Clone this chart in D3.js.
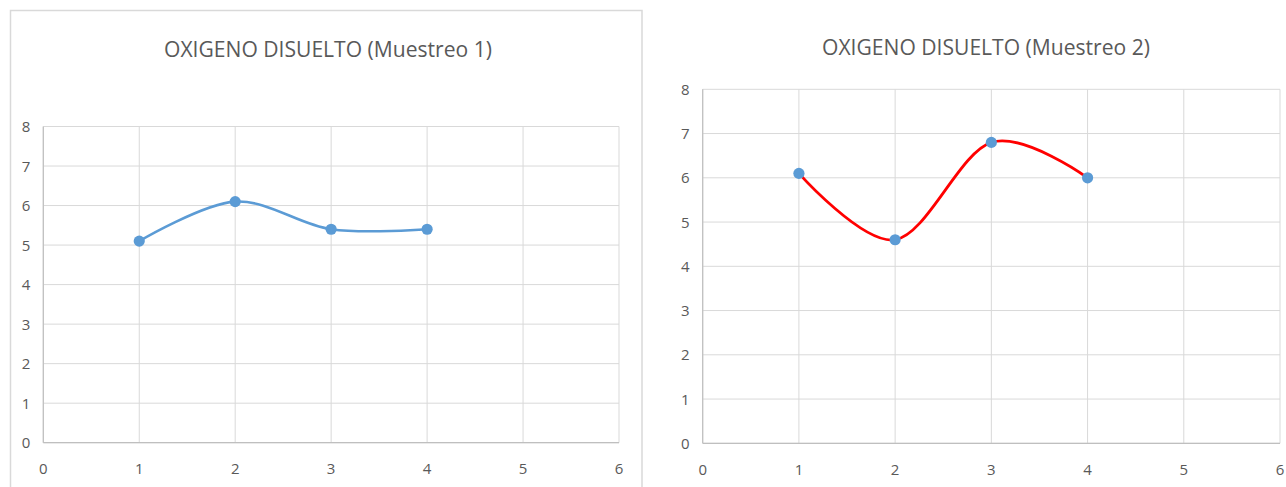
<!DOCTYPE html>
<html>
<head>
<meta charset="utf-8">
<script src="https://cdn.jsdelivr.net/npm/d3@7"></script>
<style>
  html, body { margin: 0; padding: 0; background: #fff; }
  svg { display: block; }
</style>
</head>
<body>
<svg id="chart" width="1286" height="487"></svg>
<script>
// ---- Data ----
const xValues = [1, 2, 3, 4];
const muestreo1 = [5.1, 6.1, 5.4, 5.4];
const muestreo2 = [6.1, 4.6, 6.8, 6.0];
const xTicks = [0, 1, 2, 3, 4, 5, 6];
const yTicks = [0, 1, 2, 3, 4, 5, 6, 7, 8];
const titles = ["OXIGENO DISUELTO (Muestreo 1)", "OXIGENO DISUELTO (Muestreo 2)"];

const svg = d3.select("#chart");
const fontFam = "'Open Sans', 'Noto Sans', sans-serif";
const textColor = "#595959";
const gridColor = "#d9d9d9";

// border around the first chart
svg.append("rect")
  .attr("x", 10.5).attr("y", 10.5)
  .attr("width", 631.5).attr("height", 490)
  .attr("fill", "none").attr("stroke", "#d9d9d9").attr("stroke-width", 1.5);

function drawChart(cfg) {
  const x = d3.scaleLinear().domain([0, 6]).range([cfg.left, cfg.right]);
  const y = d3.scaleLinear().domain([0, 8]).range([cfg.bottom, cfg.top]);
  const g = svg.append("g");

  // grid
  g.selectAll("line.hg").data(yTicks).join("line")
    .attr("x1", cfg.left).attr("x2", cfg.right)
    .attr("y1", d => y(d)).attr("y2", d => y(d))
    .attr("stroke", gridColor).attr("stroke-width", 1);
  g.selectAll("line.vg").data(xTicks).join("line")
    .attr("y1", cfg.top).attr("y2", cfg.bottom)
    .attr("x1", d => x(d)).attr("x2", d => x(d))
    .attr("stroke", gridColor).attr("stroke-width", 1);

  // axes baseline
  g.append("line").attr("x1", cfg.left).attr("x2", cfg.right)
    .attr("y1", y(0)).attr("y2", y(0)).attr("stroke", "#bfbfbf").attr("stroke-width", 1.2);
  g.append("line").attr("x1", x(0)).attr("x2", x(0))
    .attr("y1", cfg.top).attr("y2", cfg.bottom).attr("stroke", "#bfbfbf").attr("stroke-width", 1.2);

  // y labels
  g.selectAll("text.yl").data(yTicks).join("text")
    .attr("x", cfg.left - 13).attr("y", d => y(d) + 5.5)
    .attr("text-anchor", "end")
    .attr("font-family", fontFam).attr("font-size", 15).attr("fill", textColor)
    .text(d => d);
  // x labels
  g.selectAll("text.xl").data(xTicks).join("text")
    .attr("x", d => x(d)).attr("y", cfg.bottom + 31.5)
    .attr("text-anchor", "middle")
    .attr("font-family", fontFam).attr("font-size", 15).attr("fill", textColor)
    .text(d => d);

  // title
  g.append("text")
    .attr("x", cfg.titleX).attr("y", cfg.titleY)
    .attr("text-anchor", "middle")
    .attr("font-family", fontFam).attr("font-size", 22).attr("fill", textColor)
    .attr("textLength", 328).attr("lengthAdjust", "spacingAndGlyphs")
    .text(cfg.title);

  const pts = xValues.map((v, i) => [v, cfg.values[i]]);
  const line = d3.line().x(d => x(d[0])).y(d => y(d[1])).curve(d3.curveCardinal.tension(0));
  g.append("path").attr("d", line(pts))
    .attr("fill", "none").attr("stroke", cfg.lineColor).attr("stroke-width", cfg.lineWidth)
    .attr("stroke-linecap", "round");
  g.selectAll("circle").data(pts).join("circle")
    .attr("cx", d => x(d[0])).attr("cy", d => y(d[1]))
    .attr("r", 5.6).attr("fill", "#5b9bd5");
}

drawChart({ left: 43.3, right: 619, top: 126.5, bottom: 442.7, values: muestreo1,
  lineColor: "#5b9bd5", lineWidth: 2.6, title: titles[0], titleX: 328, titleY: 57 });
drawChart({ left: 702.7, right: 1280, top: 89.3, bottom: 443.3, values: muestreo2,
  lineColor: "#ff0000", lineWidth: 2.8, title: titles[1], titleX: 986, titleY: 55 });
</script>
</body>
</html>
